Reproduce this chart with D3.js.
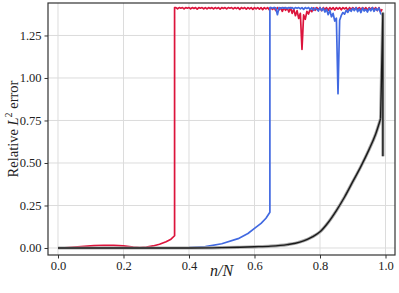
<!DOCTYPE html>
<html>
<head>
<meta charset="utf-8">
<script src="https://cdn.jsdelivr.net/npm/d3@7"></script>
<style>
  body { margin: 0; background: #fff; }
</style>
</head>
<body>
<div id="chart"></div>
<script>
// chart data
var xTicks = [0.0, 0.2, 0.4, 0.6, 0.8, 1.0];
var yTicks = [0.00, 0.25, 0.50, 0.75, 1.00, 1.25];

// red: low part then jump
var redLowX = [0, 0.02, 0.05, 0.08, 0.11, 0.14, 0.17, 0.2, 0.23, 0.25, 0.27, 0.29, 0.31, 0.33, 0.345, 0.356, 0.356];
var redLowY = [0, 0.001, 0.005, 0.010, 0.014, 0.016, 0.015, 0.012, 0.006, 0.003, 0.006, 0.012, 0.022, 0.037, 0.052, 0.072, 1.414];
// red: saturated part, n/N from 0.36 step 0.005
var redTopStart = 0.36;
var redTopY = [
  1.414, 1.407, 1.414, 1.410, 1.414, 1.406, 1.414, 1.410, 1.414, 1.407,
  1.414, 1.409, 1.414, 1.405, 1.414, 1.410, 1.414, 1.407, 1.414, 1.406,
  1.414, 1.409, 1.414, 1.406, 1.414, 1.408, 1.414, 1.405, 1.414, 1.409,
  1.414, 1.406, 1.414, 1.410, 1.414, 1.406, 1.414, 1.408, 1.414, 1.404,
  1.414, 1.408, 1.414, 1.405, 1.414, 1.407, 1.414, 1.404, 1.414, 1.407,
  1.414, 1.405, 1.414, 1.402, 1.414, 1.406, 1.414, 1.401, 1.414, 1.404,
  1.414, 1.396, 1.414, 1.401, 1.412, 1.392, 1.414, 1.398, 1.410, 1.388,
  1.414, 1.380, 1.405, 1.366, 1.396, 1.350, 1.380, 1.168, 1.372, 1.345,
  1.392, 1.376, 1.405, 1.390, 1.412, 1.398, 1.414, 1.401, 1.414, 1.396,
  1.414, 1.402, 1.414, 1.398, 1.414, 1.404, 1.414, 1.400, 1.414, 1.405,
  1.414, 1.401, 1.414, 1.406, 1.414, 1.399, 1.414, 1.404, 1.414, 1.402,
  1.414, 1.405, 1.414, 1.400, 1.414, 1.403, 1.414, 1.398, 1.414, 1.404,
  1.414, 1.401, 1.414, 1.396, 1.414, 1.390, 1.405
];

// blue
var blueLowX = [0, 0.1, 0.2, 0.3, 0.35, 0.4, 0.45, 0.5, 0.55, 0.58, 0.6, 0.62, 0.635, 0.647, 0.647];
var blueLowY = [0, 0, 0, 0, 0.001, 0.003, 0.008, 0.025, 0.055, 0.085, 0.115, 0.145, 0.175, 0.21, 1.414];
var blueTopStart = 0.65;
var blueTopY = [
  1.414, 1.410, 1.414, 1.412, 1.372, 1.414, 1.409, 1.414, 1.411, 1.414,
  1.408, 1.414, 1.411, 1.414, 1.406, 1.414, 1.410, 1.414, 1.407, 1.414,
  1.404, 1.414, 1.408, 1.414, 1.402, 1.414, 1.398, 1.412, 1.405, 1.394,
  1.414, 1.396, 1.410, 1.388, 1.404, 1.372, 1.398, 1.360, 1.380, 1.335,
  1.352, 0.907, 1.340, 1.368, 1.385, 1.376, 1.398, 1.386, 1.404, 1.392,
  1.410, 1.396, 1.414, 1.390, 1.406, 1.385, 1.412, 1.394, 1.404, 1.388,
  1.410, 1.395, 1.414, 1.392, 1.408, 1.398, 1.412, 1.380, 1.370
];
var topStep = 0.005;

// black: smooth rise, then the spike at the very end
var blackX = [0, 0.1, 0.2, 0.3, 0.4, 0.5, 0.55, 0.6, 0.65, 0.7, 0.725, 0.75, 0.775, 0.8, 0.825, 0.85, 0.875, 0.9, 0.925, 0.95, 0.97, 0.985];
var blackY = [0, 0, 0, 0, 0, 0.002, 0.004, 0.007, 0.011, 0.02, 0.028, 0.042, 0.064, 0.095, 0.15, 0.22, 0.30, 0.39, 0.48, 0.58, 0.67, 0.76];
var blackSpikeX = [0.985, 0.992, 0.992];
var blackSpikeY = [0.76, 1.38, 0.54];

var svgWidth = 399;
var svgHeight = 293;
var margin = { top: 3, right: 4, bottom: 38, left: 48 };
var width = svgWidth - margin.left - margin.right;
var height = svgHeight - margin.top - margin.bottom;
var serif = "'Liberation Serif'";

var svg = d3.select("#chart").append("svg")
  .attr("width", svgWidth)
  .attr("height", svgHeight);

var chart = svg.append("g")
  .attr("transform", `translate(${margin.left}, ${margin.top})`);

var x = d3.scaleLinear().domain([-0.0305, 1.029]).range([0, width]);
var y = d3.scaleLinear().domain([-0.0412, 1.441]).range([height, 0]);

// grid
chart.append("g").selectAll("line").data(xTicks).enter().append("line")
  .attr("x1", d => x(d)).attr("x2", d => x(d))
  .attr("y1", 0).attr("y2", height)
  .attr("stroke", "#dcdcdc").attr("stroke-width", 1);
chart.append("g").selectAll("line").data(yTicks).enter().append("line")
  .attr("y1", d => y(d)).attr("y2", d => y(d))
  .attr("x1", 0).attr("x2", width)
  .attr("stroke", "#dcdcdc").attr("stroke-width", 1);

// build point lists
function zip(xs, ys) { return xs.map((v, i) => [v, ys[i]]); }
var redPts = zip(redLowX, redLowY).concat(redTopY.map((v, i) => [redTopStart + i * topStep, v]));
var bluePts = zip(blueLowX, blueLowY).concat(blueTopY.map((v, i) => [blueTopStart + i * topStep, v]));

var line = d3.line().x(d => x(d[0])).y(d => y(d[1]));
var smooth = d3.line().x(d => x(d[0])).y(d => y(d[1])).curve(d3.curveMonotoneX);

var plot = chart.append("g").attr("fill", "none").attr("stroke-linejoin", "round");
plot.append("path").attr("d", line(redPts))
  .attr("stroke", "#dc143c").attr("stroke-width", 1.7);
plot.append("path").attr("d", line(bluePts))
  .attr("stroke", "#4169e1").attr("stroke-width", 1.7);
[["#a8a8a8", 3.2], ["#1a1a1a", 1.4]].forEach(function(s) {
  plot.append("path").attr("d", smooth(zip(blackX, blackY)))
    .attr("stroke", s[0]).attr("stroke-width", s[1]);
  plot.append("path").attr("d", line(zip(blackSpikeX, blackSpikeY)))
    .attr("stroke", s[0]).attr("stroke-width", s[1]);
});

// axes
var xAxis = chart.append("g")
  .attr("transform", `translate(0, ${height})`)
  .call(d3.axisBottom(x).tickValues(xTicks).tickFormat(d3.format(".1f")).tickSize(3.5).tickPadding(3));
var yAxis = chart.append("g")
  .call(d3.axisLeft(y).tickValues(yTicks).tickFormat(d3.format(".2f")).tickSize(3.5).tickPadding(3));
[xAxis, yAxis].forEach(function(a) {
  a.attr("font-family", serif).attr("font-size", 12.5);
  a.select(".domain").remove();
  a.selectAll("line").attr("stroke", "#333");
  a.selectAll("text").attr("fill", "#222");
});

// frame
chart.append("rect")
  .attr("width", width).attr("height", height)
  .attr("fill", "none").attr("stroke", "#333").attr("stroke-width", 1.2);

// labels
var yl = svg.append("text")
  .attr("transform", `translate(18, ${margin.top + height / 2}) rotate(-90)`)
  .attr("text-anchor", "middle")
  .style("font-family", serif)
  .style("font-size", "14.5px")
  .attr("fill", "#222");
yl.append("tspan").text("Relative ");
yl.append("tspan").style("font-style", "italic").text("L");
yl.append("tspan").style("font-size", "10px").attr("dy", "-6").text("2");
yl.append("tspan").attr("dy", "6").text(" error");

svg.append("text")
  .attr("x", margin.left + width / 2)
  .attr("y", 276)
  .attr("text-anchor", "middle")
  .style("font-family", serif)
  .style("font-size", "16px")
  .style("font-style", "italic")
  .attr("fill", "#222")
  .text("n/N");
</script>
</body>
</html>
